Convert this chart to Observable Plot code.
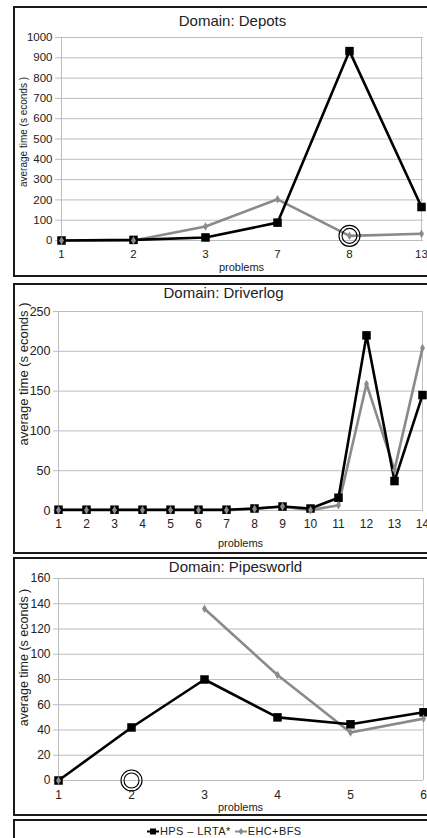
<!DOCTYPE html>
<html><head><meta charset="utf-8">
<script src="https://cdn.jsdelivr.net/npm/d3@7"></script>
<script src="https://cdn.jsdelivr.net/npm/@observablehq/plot@0.6"></script>
<style>
body{margin:0;background:#fff;font-family:"Liberation Sans",Arial,sans-serif;}
#page{position:relative;width:427px;height:838px;overflow:hidden;background:#fff;}
.box{position:absolute;left:13px;width:440px;border:2px solid #1a1a1a;box-sizing:border-box;}
.chart{position:absolute;left:0;}
.chart svg{overflow:visible;}
#legend{position:absolute;left:147px;top:825px;font-size:11px;line-height:12px;color:#222;display:flex;align-items:center;white-space:nowrap;letter-spacing:0.4px;}
#legend span{display:inline-flex;align-items:center;margin-right:4px;}
</style></head><body><div id="page"></div>
<script>
// ---- data ----
const seriesNames = ["HPS – LRTA*", "EHC+BFS"];
const yLabel = "average time (s econds )";
const xLabel = "problems";

const depotsTitle = "Domain: Depots";
const depotsProblems = ["1", "2", "3", "7", "8", "13"];
const depotsHPS = [0, 3, 15, 88, 933, 165];
const depotsEHC = [0, 0, 69, 203, 23, 33];
const depotsTicks = [0, 100, 200, 300, 400, 500, 600, 700, 800, 900, 1000];
const depotsCircled = [{p: "8", v: 23}];

const driverTitle = "Domain: Driverlog";
const driverProblems = ["1", "2", "3", "4", "5", "6", "7", "8", "9", "10", "11", "12", "13", "14"];
const driverHPS = [1, 1, 1, 1, 1, 1, 1, 2.5, 5, 2.5, 16, 220, 37, 145];
const driverEHC = [0.5, 0.5, 0.5, 0.5, 0.5, 0.5, 0.5, 2, 5, 0.5, 6.5, 159, 51, 204];
const driverTicks = [0, 50, 100, 150, 200, 250];
const driverCircled = [];

const pipesTitle = "Domain: Pipesworld";
const pipesProblems = ["1", "2", "3", "4", "5", "6"];
const pipesHPS = [0, 42, 80, 50, 44.5, 54];
const pipesEHC = [0, null, 136, 83.5, 38, 49];
const pipesTicks = [0, 20, 40, 60, 80, 100, 120, 140, 160];
const pipesCircled = [{p: "2", v: 0}];

// ---- drawing ----
const page = document.getElementById("page");
const GRID = "#bdbdbd", BLACK = "#000", GRAY = "#8a8a8a", TXT = "#222";

function panel(cfg) {
  const box = document.createElement("div");
  box.className = "box";
  box.style.top = cfg.boxTop + "px";
  box.style.height = cfg.boxH + "px";
  page.appendChild(box);

  const hps = cfg.problems.map((p, i) => ({p, v: cfg.hps[i]}));
  const ehc = cfg.problems.map((p, i) => ({p, v: cfg.ehc[i]}));
  const last = cfg.problems[cfg.problems.length - 1];
  const fs = cfg.fs;
  const chart = Plot.plot({
    width: 427, height: cfg.height,
    marginTop: cfg.mt, marginBottom: cfg.mb, marginLeft: cfg.ml, marginRight: 4,
    style: {fontFamily: '"Liberation Sans", Arial, sans-serif', fontSize: fs + "px", background: "transparent", color: TXT},
    x: {type: "point", domain: cfg.problems, padding: 0},
    y: {domain: [0, cfg.ticks[cfg.ticks.length - 1]]},
    marks: [
      Plot.gridY(cfg.ticks, {stroke: GRID, strokeOpacity: 1}),
      Plot.ruleX([cfg.problems[0]], {stroke: GRID, insetBottom: -4}),
      Plot.ruleX([last], {stroke: GRID}),
      Plot.axisY(cfg.ticks, {tickSize: 4, tickPadding: 3, stroke: GRID, fill: TXT, label: null, tickFormat: d3.format("d")}),
      Plot.axisX({tickSize: 0, tickPadding: cfg.xpad, fill: TXT, label: null, fontSize: cfg.xfs}),
      Plot.text([cfg.title], {frameAnchor: "top", lineAnchor: "middle", dx: cfg.tdx, dy: cfg.tdy, fontSize: 15, fill: TXT}),
      Plot.text([xLabel], {frameAnchor: "bottom", lineAnchor: "middle", dy: cfg.xldy, fontSize: cfg.xlfs, fill: TXT}),
      Plot.text([yLabel], {frameAnchor: "left", textAnchor: "middle", lineAnchor: "middle", rotate: -90, dx: cfg.yldx, dy: cfg.yldy, fontSize: cfg.ylfs, fill: TXT}),
      Plot.line(ehc, {x: "p", y: "v", stroke: GRAY, strokeWidth: 2.6}),
      Plot.line(hps, {x: "p", y: "v", stroke: BLACK, strokeWidth: 2.6}),
      Plot.dot(hps, {x: "p", y: "v", symbol: "square", r: 4.8, fill: BLACK, stroke: "none"}),
      Plot.dot(ehc, {x: "p", y: "v", symbol: "diamond", r: 2.6, fill: GRAY, stroke: "none"}),
      Plot.dot(cfg.circled, {x: "p", y: "v", r: 10.5, fill: "none", stroke: BLACK, strokeWidth: 1.1}),
      Plot.dot(cfg.circled, {x: "p", y: "v", r: 7.5, fill: "none", stroke: BLACK, strokeWidth: 1.1})
    ]
  });
  const wrap = document.createElement("div");
  wrap.className = "chart";
  wrap.style.top = cfg.top + "px";
  wrap.appendChild(chart);
  page.appendChild(wrap);
}

panel({title: depotsTitle, problems: depotsProblems, hps: depotsHPS, ehc: depotsEHC, ticks: depotsTicks, circled: depotsCircled,
  boxTop: 6, boxH: 271, top: 0, height: 278, mt: 37, mb: 38, ml: 59, fs: 11.5, xfs: 11.5, xpad: 9,
  tdx: -9, tdy: -16, xldy: 27, xlfs: 11, yldx: -36, yldy: -7, ylfs: 10});

panel({title: driverTitle, problems: driverProblems, hps: driverHPS, ehc: driverEHC, ticks: driverTicks, circled: driverCircled,
  boxTop: 283, boxH: 271, top: 283, height: 272, mt: 28, mb: 45, ml: 57, fs: 12.5, xfs: 12, xpad: 9,
  tdx: -17, tdy: -18, xldy: 33, xlfs: 11, yldx: -34, yldy: -37, ylfs: 13});

panel({title: pipesTitle, problems: pipesProblems, hps: pipesHPS, ehc: pipesEHC, ticks: pipesTicks, circled: pipesCircled,
  boxTop: 557, boxH: 259, top: 557, height: 260, mt: 21, mb: 37, ml: 57, fs: 12, xfs: 12, xpad: 10,
  tdx: -5, tdy: -11, xldy: 27, xlfs: 11, yldx: -34, yldy: -22, ylfs: 12.5});

// legend
const lbox = document.createElement("div");
lbox.className = "box";
lbox.style.top = "819px";
lbox.style.height = "40px";
page.appendChild(lbox);

const legend = document.createElement("div");
legend.id = "legend";
const legendStyles = [{stroke: BLACK, shape: "square"}, {stroke: GRAY, shape: "diamond"}];
seriesNames.forEach((name, i) => {
  const s = legendStyles[i];
  const item = document.createElement("span");
  const marker = s.shape === "square"
    ? `<rect x="3" y="1.5" width="6" height="6" fill="${s.stroke}"/>`
    : `<path d="M6,1 L8.5,4.5 L6,8 L3.5,4.5 Z" fill="${s.stroke}"/>`;
  item.innerHTML = `<svg width="12" height="9" style="margin-right:1px"><line x1="0" y1="4.5" x2="12" y2="4.5" stroke="${s.stroke}" stroke-width="2"/>${marker}</svg>${name}`;
  legend.appendChild(item);
});
page.appendChild(legend);
</script>
</body></html>
